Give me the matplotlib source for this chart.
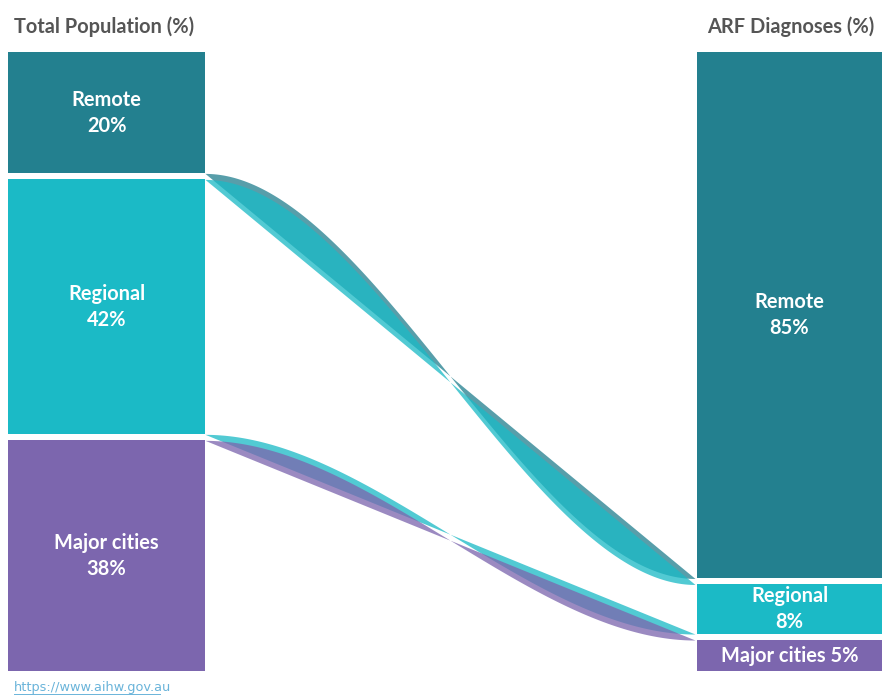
import numpy as np
import matplotlib
matplotlib.use("Agg")
import matplotlib.pyplot as plt

categories = ["Remote", "Regional", "Major cities"]
population = [20, 42, 38]
arf = [85, 8, 5]
colors = ["#23808F", "#1BBAC6", "#7C66AE"]
left_title = "Total Population (%)"
right_title = "ARF Diagnoses (%)"
source = "https://www.aihw.gov.au"

W, H = 890, 700
fig = plt.figure(figsize=(W / 100, H / 100), dpi=100)
ax = fig.add_axes([0, 0, 1, 1])
ax.set_xlim(0, W)
ax.set_ylim(H, 0)
ax.axis("off")

TOP, BOT, GAP = 52, 671, 6
LX0, LX1 = 8, 205
RX0, RX1 = 697, 882
FONT = ["Lato", "DejaVu Sans"]
FS = 14.4


def stack(vals):
    tot = sum(vals)
    avail = BOT - TOP - GAP * (len(vals) - 1)
    edges = []
    y = TOP
    for v in vals:
        h = avail * v / tot
        edges.append((y, y + h))
        y += h + GAP
    return edges


le = stack(population)
re = stack(arf)

# ribbons between bar edges
xs = np.linspace(LX1, RX0 - 2, 300)
u = (xs - xs[0]) / (xs[-1] - xs[0])
s = 3 * u ** 2 - 2 * u ** 3
for i, c in enumerate(colors):
    for k in (0, 1):
        y0, y1 = le[i][k], re[i][k]
        if abs(y1 - y0) < 0.5:
            continue
        line = y0 + (y1 - y0) * u
        sig = y0 + (y1 - y0) * s
        ax.fill_between(xs, line, sig, color=c, alpha=0.76, lw=0)

# bars
for i, c in enumerate(colors):
    for (x0, x1), edges, vals in (((LX0, LX1), le, population), ((RX0, RX1), re, arf)):
        a, b = edges[i]
        ax.add_patch(plt.Rectangle((x0, a), x1 - x0, b - a, color=c, lw=0))
        cx, cy = (x0 + x1) / 2, (a + b) / 2
        if b - a > 45:
            ax.text(cx, cy - 13, categories[i], ha="center", va="center",
                    color="white", fontsize=FS, fontweight="bold", family=FONT)
            ax.text(cx, cy + 13, f"{vals[i]}%", ha="center", va="center",
                    color="white", fontsize=FS, fontweight="bold", family=FONT)
        else:
            ax.text(cx, cy, f"{categories[i]} {vals[i]}%", ha="center", va="center",
                    color="white", fontsize=FS, fontweight="bold", family=FONT)

ax.text(14, 27, left_title, ha="left", va="center", color="#555555",
        fontsize=FS, fontweight="bold", family=FONT)
ax.text(874, 27, right_title, ha="right", va="center", color="#555555",
        fontsize=FS, fontweight="bold", family=FONT)
ax.text(14, 688, source, ha="left", va="center", color="#6AB4DA",
        fontsize=9.3, family=["DejaVu Sans"])
ax.plot([14, 160], [694, 694], color="#6AB4DA", lw=0.7)

fig.savefig("out.png", dpi=100)
